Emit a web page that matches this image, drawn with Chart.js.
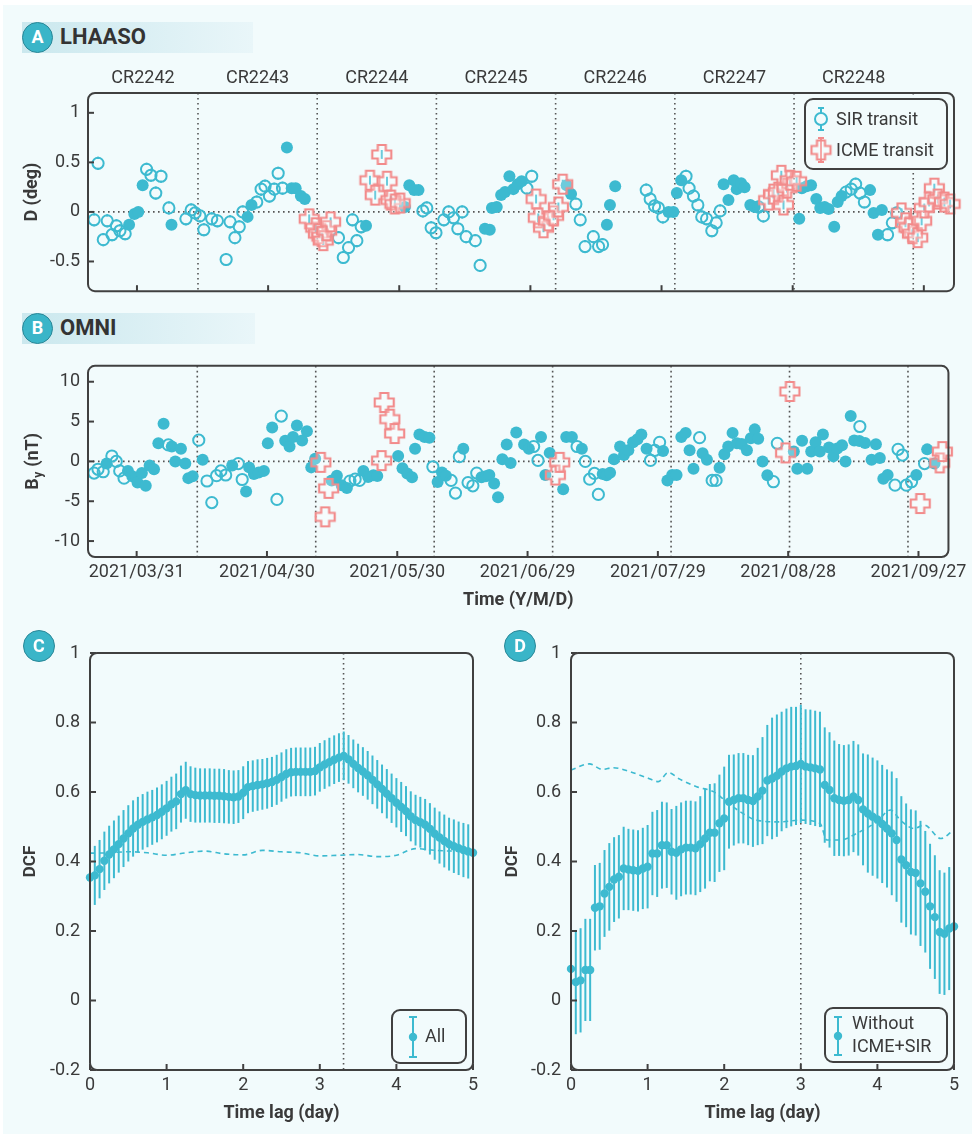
<!DOCTYPE html>
<html><head><meta charset="utf-8">
<script src="https://cdn.jsdelivr.net/npm/chart.js@4.4.0/dist/chart.umd.min.js"></script>
<style>
html,body{margin:0;padding:0;background:#fff;}
#page{position:relative;width:972px;height:1134px;overflow:hidden;background:#fff;font-family:Roboto,"Liberation Sans",sans-serif;}
#bg{position:absolute;left:3px;top:5px;right:0;bottom:0;background:#f2fbfc;}
canvas{position:absolute;}
.band{position:absolute;height:31px;background:linear-gradient(to right,#cbe8ee,#e9f6f9);}
.badge{position:absolute;width:31px;height:31px;border-radius:50%;background:#3ab5c8;border:1.5px solid #2a8797;box-sizing:border-box;color:#fff;font-weight:bold;font-size:18px;line-height:28px;text-align:center;}
.htitle{position:absolute;font-weight:bold;font-size:22px;color:#333;line-height:26px;}
</style></head>
<body><div id="page"><div id="bg"></div>
<div class="band" style="left:22px;top:22px;width:231px;"></div>
<div class="badge" style="left:22px;top:22px;">A</div>
<div class="htitle" style="left:60px;top:24px;">LHAASO</div>
<div class="band" style="left:22px;top:313px;width:233px;"></div>
<div class="badge" style="left:22px;top:313px;">B</div>
<div class="htitle" style="left:60px;top:315px;">OMNI</div>
<canvas id="cA" width="972" height="250" style="left:0;top:60px;"></canvas>
<canvas id="cB" width="972" height="273" style="left:0;top:347px;"></canvas>
<canvas id="cC" width="486" height="514" style="left:0;top:620px;"></canvas>
<canvas id="cD" width="486" height="514" style="left:486px;top:620px;"></canvas>
<div class="badge" style="left:23px;top:630px;width:32px;height:32px;line-height:29px;">C</div>
<div class="badge" style="left:504px;top:630px;width:32px;height:32px;line-height:29px;">D</div>
</div>
<script>
// ---------- shared axis data ----------
const DATE_TICK_DAYS = [0, 30, 60, 90, 120, 150, 180]; // days since 2021/03/31
const DATE_TICK_LABELS = ['2021/03/31','2021/04/30','2021/05/30','2021/06/29','2021/07/29','2021/08/28','2021/09/27'];
const DAY_RANGE = [-11.2, 186.9];
const CR_NAMES = ['CR2242','CR2243','CR2244','CR2245','CR2246','CR2247','CR2248'];
const CR_BOUNDARY_DAYS = [13.96, 41.23, 68.50, 95.77, 123.04, 150.31, 177.58];

// ---------- panel A: LHAASO D (deg) ----------
const A_Y_TICKS = [-0.5, 0, 0.5, 1];
const A_Y_RANGE = [-0.8, 1.2];
const A_ERR = 0.045;
const A_FILLED = [[-1.8,-0.13],[-0.6,-0.02],[0.3,0.00],[1.3,0.27],[7.9,-0.13],[25.3,-0.05],[26.2,0.07],[34.3,0.65],[35.4,0.24],[36.3,0.24],[37.5,0.16],[38.4,0.13],[52.4,-0.14],[61.3,0.05],[62.3,0.27],[63.4,0.22],[64.4,0.22],[79.6,-0.17],[80.7,-0.18],[81.2,0.04],[82.3,0.05],[83.3,0.17],[84.2,0.20],[85.2,0.36],[86.1,0.23],[87.1,0.28],[88.0,0.31],[98.3,0.27],[99.3,0.18],[107.5,-0.13],[108.2,0.07],[109.4,0.26],[121.6,0.00],[122.7,0.00],[123.5,0.19],[124.5,0.32],[134.2,0.28],[135.3,0.12],[136.5,0.32],[137.2,0.23],[138.2,0.29],[139.0,0.25],[140.3,0.07],[141.3,0.05],[151.5,-0.07],[152.1,0.24],[153.2,0.26],[154.2,0.27],[155.4,0.13],[156.3,0.04],[157.3,0.05],[158.2,0.03],[159.5,-0.15],[160.3,0.10],[161.2,0.16],[167.7,0.22],[168.5,-0.01],[169.5,-0.23],[170.4,0.02]];
const A_SIR = [[-9.8,-0.08],[-8.9,0.49],[-7.7,-0.28],[-6.8,-0.09],[-5.7,-0.23],[-4.7,-0.14],[-3.9,-0.19],[-2.7,-0.22],[2.2,0.43],[3.2,0.37],[4.3,0.19],[5.5,0.36],[7.3,0.04],[11.2,-0.07],[12.4,0.02],[13.3,-0.01],[14.4,-0.04],[15.3,-0.18],[17.1,-0.07],[18.4,-0.09],[20.4,-0.48],[21.3,-0.10],[22.4,-0.26],[23.4,-0.15],[24.2,0.00],[27.4,0.10],[28.4,0.23],[29.3,0.26],[30.3,0.16],[31.4,0.23],[32.3,0.39],[33.3,0.24],[46.1,-0.26],[47.2,-0.46],[48.4,-0.36],[49.3,-0.08],[50.3,-0.29],[51.3,-0.15],[65.4,0.01],[66.3,0.04],[67.3,-0.16],[68.4,-0.21],[70.2,-0.08],[71.3,0.00],[72.4,-0.06],[73.4,-0.17],[74.4,0.00],[75.3,-0.25],[77.4,-0.29],[78.5,-0.54],[89.2,0.24],[90.3,0.36],[100.4,0.08],[101.4,-0.08],[102.5,-0.35],[104.4,-0.25],[105.6,-0.35],[106.5,-0.33],[116.5,0.22],[117.4,0.13],[118.4,0.06],[119.3,0.04],[120.3,-0.05],[125.6,0.36],[126.3,0.24],[127.3,0.16],[128.3,0.07],[129.2,-0.05],[130.3,-0.07],[131.5,-0.19],[132.5,-0.11],[133.4,0.01],[142.2,0.05],[143.3,-0.04],[162.2,0.20],[163.4,0.23],[164.4,0.28],[165.4,0.19],[166.4,0.10],[171.7,-0.23],[172.8,-0.11],[173.8,-0.01]];
const A_ICME = [[39.4,-0.07],[40.9,-0.16],[41.5,-0.22],[42.3,-0.25],[42.6,-0.29],[43.4,-0.19],[44.3,-0.10],[53.3,0.32],[54.5,0.17],[56.0,0.58],[57.2,0.31],[58.1,0.12],[59.0,0.08],[60.2,0.09],[91.3,0.13],[91.8,-0.06],[93.0,-0.16],[94.1,-0.09],[95.3,-0.04],[96.4,0.05],[97.4,0.28],[144.5,0.12],[145.6,0.18],[146.7,0.20],[147.4,0.37],[147.9,0.07],[148.7,0.24],[149.4,0.32],[150.9,0.31],[174.9,-0.01],[175.8,-0.11],[176.6,-0.16],[177.4,-0.22],[178.6,-0.26],[179.5,-0.09],[180.1,0.04],[181.2,0.10],[182.4,0.24],[183.2,0.13],[184.7,0.10],[186.0,0.08]];

// ---------- panel B: OMNI By (nT) ----------
const B_Y_TICKS = [-10, -5, 0, 5, 10];
const B_Y_RANGE = [-12, 12];
const B_FILLED = [[-6.9,-0.27],[-2.0,-1.19],[-1.0,-1.86],[0.2,-2.66],[1.2,-1.47],[2.1,-3.06],[3.0,-0.51],[4.0,-0.99],[5.0,2.27],[6.2,4.74],[8.1,1.87],[8.9,0.0],[10.2,1.59],[11.2,-0.27],[11.9,-2.1],[12.9,-1.86],[15.2,0.20],[22.0,-0.51],[25.2,-3.78],[25.9,-0.75],[27.0,-1.59],[28.1,-1.39],[29.3,-1.19],[30.2,2.27],[31.2,4.26],[34.2,2.59],[35.2,1.87],[36.0,3.07],[36.9,4.50],[38.1,2.63],[39.2,3.78],[40.2,-0.75],[41.1,0.32],[44.9,-2.39],[46.1,-1.79],[47.2,-2.98],[48.4,-3.34],[52.2,-1.19],[53.3,-1.95],[54.5,-1.75],[55.4,-1.83],[60.2,0.68],[61.2,-0.87],[62.3,-1.51],[63.4,-1.99],[64.1,1.59],[65.1,3.38],[66.3,3.06],[67.4,2.98],[69.3,-2.59],[70.3,-1.39],[71.2,-1.79],[75.2,1.59],[79.4,-1.99],[80.4,-1.86],[81.2,-1.71],[82.3,-2.78],[83.2,-4.49],[84.2,0.28],[85.2,2.11],[86.1,-0.19],[87.4,3.62],[89.2,2.11],[90.3,1.59],[93.1,3.07],[94.1,-1.71],[95.1,1.07],[98.2,-3.50],[98.9,3.07],[100.2,3.07],[102.5,1.59],[107.3,-1.59],[108.2,-1.75],[109.0,-1.43],[109.9,0.28],[111.3,1.87],[112.2,0.80],[113.2,1.39],[114.3,2.39],[115.3,2.79],[116.2,3.38],[117.4,1.59],[121.2,1.31],[122.2,-2.39],[123.3,-1.71],[124.3,-1.71],[125.4,3.07],[126.4,3.58],[127.3,1.39],[128.2,-0.91],[130.3,1.03],[131.3,0.20],[134.2,-0.79],[135.3,0.91],[136.2,1.87],[137.2,3.58],[138.2,2.27],[139.3,2.19],[140.5,1.39],[141.4,2.91],[142.3,4.02],[143.1,2.83],[144.1,0.0],[145.2,-1.75],[151.3,1.23],[152.1,-0.91],[153.2,2.59],[154.4,-0.91],[155.3,1.23],[156.3,2.39],[157.3,1.23],[158.0,3.38],[159.4,1.75],[160.4,0.63],[161.3,1.63],[162.4,2.03],[163.2,0.0],[164.4,5.69],[165.2,2.63],[166.4,2.55],[167.7,2.31],[169.2,0.20],[170.2,2.15],[171.1,0.44],[171.9,-2.19],[172.9,-1.71],[179.5,-1.71],[182.0,1.51],[183.7,-0.27]];
const B_SIR = [[-9.8,-1.47],[-8.9,-0.99],[-7.7,-1.30],[-5.7,0.68],[-4.7,0.0],[-3.9,-1.19],[-2.9,-2.1],[7.3,2.07],[14.3,2.67],[16.2,-2.46],[17.3,-5.17],[18.4,-1.79],[19.4,-1.19],[20.5,-1.71],[23.4,-0.27],[24.3,-2.27],[32.3,-4.77],[33.3,5.69],[49.1,-2.47],[50.3,-2.23],[51.3,-2.39],[68.2,-0.67],[72.4,-2.39],[73.4,-3.98],[74.3,0.59],[76.3,-2.66],[77.4,-3.06],[78.3,-1.47],[91.4,1.87],[92.4,0.12],[101.4,1.87],[103.3,0.0],[104.3,-2.23],[105.4,-1.51],[106.3,-4.14],[118.3,0.12],[119.3,1.39],[120.4,2.39],[129.6,2.98],[132.5,-2.39],[133.4,-2.39],[146.6,-2.55],[147.5,2.27],[166.5,4.38],[174.6,-2.98],[175.3,1.51],[176.3,0.80],[177.2,-2.98],[178.4,-2.55],[181.4,-0.27]];
const B_ICME = [[42.4,-0.12],[43.4,-6.96],[44.2,-3.38],[56.4,0.1],[57.0,7.4],[58.3,5.3],[59.4,3.5],[96.4,-1.71],[97.4,-0.12],[149.4,1.07],[150.4,8.78],[180.4,-5.29],[184.9,-0.19],[185.5,1.23]];

// ---------- panels C, D: DCF vs time lag ----------
const LAG_TICKS = [0, 1, 2, 3, 4, 5];
const DCF_TICKS = [-0.2, 0, 0.2, 0.4, 0.6, 0.8, 1];
const DCF_RANGE = [-0.2, 1];
const LAGS = Array.from({length: 81}, (_, i) => i / 16); // lag grid, 1.5 h steps
const C_DCF = [0.354,0.360,0.378,0.402,0.420,0.435,0.450,0.466,0.481,0.495,0.506,0.514,0.521,0.527,0.534,0.543,0.553,0.565,0.573,0.594,0.605,0.594,0.591,0.590,0.590,0.590,0.589,0.589,0.588,0.586,0.585,0.587,0.598,0.614,0.617,0.620,0.622,0.625,0.629,0.635,0.643,0.652,0.657,0.658,0.658,0.658,0.658,0.660,0.671,0.679,0.686,0.693,0.699,0.704,0.694,0.681,0.669,0.659,0.648,0.635,0.622,0.609,0.595,0.582,0.569,0.557,0.545,0.530,0.519,0.513,0.506,0.494,0.480,0.469,0.459,0.450,0.444,0.438,0.433,0.429,0.425];
const C_ERR = [0.085,0.085,0.084,0.084,0.083,0.083,0.082,0.082,0.081,0.081,0.080,0.080,0.080,0.079,0.079,0.079,0.079,0.079,0.080,0.082,0.082,0.080,0.079,0.078,0.078,0.078,0.078,0.078,0.078,0.077,0.077,0.076,0.076,0.075,0.074,0.074,0.073,0.073,0.072,0.072,0.071,0.071,0.070,0.070,0.070,0.070,0.070,0.070,0.070,0.070,0.070,0.070,0.070,0.070,0.070,0.070,0.070,0.070,0.070,0.070,0.070,0.070,0.071,0.071,0.071,0.072,0.072,0.072,0.073,0.073,0.074,0.074,0.075,0.075,0.076,0.076,0.077,0.077,0.078,0.078,0.080];
const C_BASE = [[0,0.424],[0.25,0.425],[0.5,0.428],[0.75,0.425],[1.0,0.418],[1.25,0.425],[1.5,0.430],[1.75,0.422],[2.0,0.419],[2.25,0.432],[2.5,0.428],[2.75,0.425],[3.0,0.416],[3.25,0.418],[3.5,0.420],[3.75,0.414],[4.0,0.418],[4.25,0.437],[4.5,0.432],[4.75,0.430],[5.0,0.430]];
const C_PEAK_LAG = 3.31;
const D_DCF = [0.091,0.053,0.058,0.088,0.088,0.267,0.271,0.308,0.327,0.348,0.356,0.380,0.377,0.375,0.373,0.380,0.385,0.423,0.423,0.447,0.447,0.428,0.425,0.435,0.440,0.440,0.438,0.450,0.466,0.483,0.483,0.510,0.524,0.572,0.577,0.582,0.582,0.577,0.574,0.587,0.604,0.633,0.639,0.647,0.659,0.668,0.673,0.675,0.681,0.673,0.671,0.668,0.665,0.620,0.606,0.582,0.577,0.575,0.577,0.587,0.577,0.550,0.538,0.529,0.521,0.508,0.495,0.481,0.462,0.406,0.389,0.370,0.367,0.337,0.313,0.271,0.240,0.197,0.192,0.207,0.213];
const D_ERR = [0.150,0.150,0.150,0.147,0.147,0.123,0.125,0.125,0.126,0.122,0.120,0.120,0.117,0.117,0.117,0.117,0.120,0.120,0.125,0.125,0.123,0.123,0.135,0.135,0.135,0.135,0.135,0.138,0.144,0.140,0.142,0.140,0.149,0.135,0.131,0.130,0.130,0.130,0.132,0.140,0.154,0.160,0.175,0.176,0.172,0.172,0.172,0.170,0.170,0.165,0.166,0.166,0.166,0.166,0.166,0.166,0.161,0.160,0.160,0.160,0.160,0.161,0.170,0.170,0.170,0.170,0.170,0.178,0.178,0.182,0.178,0.180,0.180,0.180,0.175,0.180,0.178,0.178,0.176,0.177,0.183];
const D_BASE = [[0,0.663],[0.24,0.681],[0.41,0.665],[0.55,0.670],[0.76,0.659],[0.98,0.642],[1.14,0.630],[1.27,0.656],[1.42,0.637],[1.64,0.615],[1.86,0.601],[2.03,0.572],[2.21,0.543],[2.42,0.519],[2.73,0.514],[2.99,0.519],[3.25,0.510],[3.34,0.462],[3.52,0.462],[3.73,0.481],[3.99,0.514],[4.17,0.548],[4.30,0.519],[4.48,0.495],[4.61,0.505],[4.83,0.466],[5.0,0.492]];
const D_PEAK_LAG = 3.0;

// ---------- styling ----------
const TEAL = '#3dbad0', PINK = '#f28b8b', INK = '#3a3a3a', FRAME = '#404040', BG = '#f2fbfc';
const FONT = 'Roboto, "Liberation Sans", sans-serif';
Chart.defaults.font.family = FONT;
Chart.defaults.color = INK;
Chart.defaults.animation = false;

function makeCross(size, arm, color) {
  const c = document.createElement('canvas');
  c.width = size + 4; c.height = size + 4;
  const g = c.getContext('2d');
  const o = c.width / 2, h = size / 2, a = arm / 2;
  const pts = [[-a,-h],[a,-h],[a,-a],[h,-a],[h,a],[a,a],[a,h],[-a,h],[-a,a],[-h,a],[-h,-a],[-a,-a]];
  g.beginPath();
  pts.forEach(([x, y], i) => i ? g.lineTo(o + x, o + y) : g.moveTo(o + x, o + y));
  g.closePath();
  g.fillStyle = 'rgba(255,255,255,0.25)'; g.fill();
  g.strokeStyle = color; g.lineWidth = 2.2; g.stroke();
  return c;
}
const CROSS = makeCross(19, 8, PINK);

const toPts = arr => arr.map(([x, y]) => ({x, y}));
const fixedTicks = vals => s => { s.ticks = vals.map(v => ({value: v})); };

function seg(ctx, x1, y1, x2, y2) { ctx.beginPath(); ctx.moveTo(x1, y1); ctx.lineTo(x2, y2); ctx.stroke(); }
function box(ctx, l, t, w, h) {
  ctx.save(); ctx.fillStyle = BG; ctx.strokeStyle = FRAME; ctx.lineWidth = 2;
  ctx.beginPath(); ctx.roundRect(l, t, w, h, 8); ctx.fill(); ctx.stroke(); ctx.restore();
}
function capBar(ctx, x, y1, y2, color, cap) {
  ctx.save(); ctx.strokeStyle = color; ctx.lineWidth = 2;
  seg(ctx, x, y1, x, y2); seg(ctx, x - cap, y1, x + cap, y1); seg(ctx, x - cap, y2, x + cap, y2);
  ctx.restore();
}
function text(ctx, s, x, y, size, opts = {}) {
  ctx.save(); ctx.fillStyle = INK; ctx.font = (opts.bold ? 'bold ' : '') + size + 'px ' + FONT;
  ctx.textAlign = opts.align || 'left'; ctx.textBaseline = 'middle'; ctx.fillText(s, x, y); ctx.restore();
}

function decor(cfg) {
  return {
    id: 'decor',
    beforeDatasetsDraw(chart) {
      const {ctx, chartArea: a, scales: {x, y}} = chart;
      ctx.save();
      ctx.strokeStyle = '#555'; ctx.lineWidth = 1.6; ctx.setLineDash([1.6, 3.4]);
      if (cfg.zeroLine) { const py = y.getPixelForValue(0); seg(ctx, a.left, py, a.right, py); }
      (cfg.vLines || []).forEach(v => { const px = x.getPixelForValue(v); seg(ctx, px, a.top, px, a.bottom); });
      ctx.restore();
      chart.data.datasets.forEach((ds, i) => {
        if (ds.errorBars == null) return;
        const meta = chart.getDatasetMeta(i);
        ctx.save(); ctx.strokeStyle = TEAL; ctx.lineWidth = ds.errorWidth || 2;
        meta.data.forEach((el, j) => {
          const v = ds.data[j].y;
          const e = Array.isArray(ds.errorBars) ? ds.errorBars[j] : ds.errorBars;
          const t = y.getPixelForValue(v + e), b = y.getPixelForValue(v - e), g = ds.errorGap || 0;
          ctx.beginPath();
          if (g) { ctx.moveTo(el.x, t); ctx.lineTo(el.x, el.y - g); ctx.moveTo(el.x, el.y + g); ctx.lineTo(el.x, b); }
          else { ctx.moveTo(el.x, t); ctx.lineTo(el.x, b); }
          ctx.stroke();
        });
        ctx.restore();
      });
    },
    afterDraw(chart) {
      const {ctx, chartArea: a, scales: {x, y}} = chart;
      ctx.save();
      ctx.strokeStyle = FRAME; ctx.lineWidth = 2;
      ctx.beginPath(); ctx.roundRect(a.left, a.top, a.width, a.height, 7); ctx.stroke();
      cfg.yTicks.forEach(v => { const py = y.getPixelForValue(v); seg(ctx, a.left, py, a.left + 6, py); });
      cfg.xTicks.forEach(v => { const px = x.getPixelForValue(v); seg(ctx, px, a.bottom, px, a.bottom - 6); });
      ctx.restore();
      if (cfg.crLabels) {
        const edges = [x.min, ...CR_BOUNDARY_DAYS];
        CR_NAMES.forEach((n, i) => {
          const mid = (edges[i] + edges[i + 1]) / 2;
          text(ctx, n, x.getPixelForValue(mid), a.top - 15, 18, {align: 'center'});
        });
      }
      if (cfg.byTitle) {
        ctx.save();
        ctx.translate(33.5, (a.top + a.bottom) / 2); ctx.rotate(-Math.PI / 2);
        ctx.fillStyle = INK; ctx.textBaseline = 'middle'; ctx.textAlign = 'left';
        const f1 = 'bold 18px ' + FONT, f2 = 'bold 12px ' + FONT;
        ctx.font = f1; const wB = ctx.measureText('B').width, wR = ctx.measureText(' (nT)').width;
        ctx.font = f2; const wy = ctx.measureText('y').width;
        const x0 = -(wB + wy + 1 + wR) / 2;
        ctx.font = f1; ctx.fillText('B', x0, 0);
        ctx.font = f2; ctx.fillText('y', x0 + wB + 0.5, 5);
        ctx.font = f1; ctx.fillText(' (nT)', x0 + wB + wy + 1, 0);
        ctx.restore();
      }
      if (cfg.legend) cfg.legend(ctx, a);
    }
  };
}

function legendA(ctx, a) {
  const w = 142, h = 70, L = a.right - 7 - w, T = a.top + 6;
  box(ctx, L, T, w, h);
  const mx = L + 16, y1 = T + 20, y2 = T + 51;
  capBar(ctx, mx, y1 - 11, y1 + 11, TEAL, 3);
  ctx.save(); ctx.beginPath(); ctx.arc(mx, y1, 6, 0, Math.PI * 2); ctx.fillStyle = BG; ctx.fill();
  ctx.strokeStyle = TEAL; ctx.lineWidth = 2; ctx.stroke(); ctx.restore();
  text(ctx, 'SIR transit', L + 31, y1 + 1, 18);
  capBar(ctx, mx, y2 - 12, y2 + 12, PINK, 3);
  ctx.drawImage(CROSS, mx - CROSS.width / 2, y2 - CROSS.height / 2);
  text(ctx, 'ICME transit', L + 31, y2 + 1, 18);
}
function legendC(ctx, a) {
  const w = 74, h = 53, L = a.right - 7 - w, T = a.bottom - 7 - h;
  box(ctx, L, T, w, h);
  const mx = L + 21, my = T + 27;
  capBar(ctx, mx, my - 20, my + 20, TEAL, 4);
  ctx.save(); ctx.fillStyle = TEAL; ctx.beginPath(); ctx.arc(mx, my, 4.2, 0, Math.PI * 2); ctx.fill(); ctx.restore();
  text(ctx, 'All', L + 33, my, 18);
}
function legendD(ctx, a) {
  const w = 122, h = 54, L = a.right - 7 - w, T = a.bottom - 8 - h;
  box(ctx, L, T, w, h);
  const mx = L + 13, my = T + 28;
  capBar(ctx, mx, my - 19, my + 19, TEAL, 4);
  ctx.save(); ctx.fillStyle = TEAL; ctx.beginPath(); ctx.arc(mx, my, 4.2, 0, Math.PI * 2); ctx.fill(); ctx.restore();
  text(ctx, 'Without', L + 27, T + 16, 18);
  text(ctx, 'ICME+SIR', L + 27, T + 39, 18);
}

const tickFont = {size: 18, family: FONT};
const noGrid = {display: false, drawTicks: false};

function timeChart(id, opts) {
  return new Chart(document.getElementById(id), {
    type: 'scatter',
    data: {datasets: [
      {data: toPts(opts.icme), pointStyle: CROSS, pointRadius: 10, errorBars: opts.err, errorWidth: 2},
      {data: toPts(opts.sir), pointStyle: 'circle', pointRadius: 5.6, borderWidth: 2, borderColor: TEAL, backgroundColor: 'rgba(0,0,0,0)', errorBars: opts.err, errorGap: 6.5},
      {data: toPts(opts.filled), pointStyle: 'circle', pointRadius: 6, borderWidth: 0, backgroundColor: TEAL, borderColor: TEAL, errorBars: opts.err}
    ].map(d => Object.assign(d, {clip: false, pointHoverRadius: d.pointRadius}))},
    options: {
      responsive: false, maintainAspectRatio: false, devicePixelRatio: 1, events: [],
      layout: {padding: {top: opts.padTop, right: 18, left: 0, bottom: 0}},
      plugins: {legend: {display: false}, tooltip: {enabled: false}},
      scales: {
        x: {type: 'linear', min: DAY_RANGE[0], max: DAY_RANGE[1], grid: noGrid, border: {display: false},
            afterBuildTicks: fixedTicks(DATE_TICK_DAYS),
            afterFit: s => { s.height = opts.xHeight; },
            ticks: {display: opts.showDates, autoSkip: false, maxRotation: 0, padding: 5, font: tickFont,
                    callback: v => DATE_TICK_LABELS[DATE_TICK_DAYS.indexOf(v)]},
            title: {display: !!opts.xTitle, text: opts.xTitle || '', font: {size: 18, weight: 'bold', family: FONT}, padding: {bottom: 9, top: 0}}},
        y: {min: opts.yRange[0], max: opts.yRange[1], grid: noGrid, border: {display: false},
            afterBuildTicks: fixedTicks(opts.yTicks),
            afterFit: s => { s.width = 88; },
            ticks: {padding: 8, font: tickFont, callback: v => String(v)},
            title: {display: !!opts.yTitle, text: opts.yTitle || '', font: {size: 18, weight: 'bold', family: FONT}, padding: {top: 22, bottom: 0}}}
      }
    },
    plugins: [decor({zeroLine: true, vLines: CR_BOUNDARY_DAYS, yTicks: opts.yTicks, xTicks: DATE_TICK_DAYS,
                     crLabels: opts.crLabels, byTitle: opts.byTitle, legend: opts.legend})]
  });
}

timeChart('cA', {icme: A_ICME, sir: A_SIR, filled: A_FILLED, err: A_ERR, padTop: 33, xHeight: 10,
  showDates: false, yRange: A_Y_RANGE, yTicks: A_Y_TICKS, yTitle: 'D (deg)', crLabels: true, legend: legendA});
timeChart('cB', {icme: B_ICME, sir: B_SIR, filled: B_FILLED, err: null, padTop: 10, xHeight: 63,
  showDates: true, xTitle: 'Time (Y/M/D)', yRange: B_Y_RANGE, yTicks: B_Y_TICKS, byTitle: true});

function dcfChart(id, opts) {
  return new Chart(document.getElementById(id), {
    type: 'scatter',
    data: {datasets: [
      {data: LAGS.map((l, i) => ({x: l, y: opts.dcf[i]})), pointStyle: 'circle', pointRadius: 4.2, borderWidth: 0,
       backgroundColor: TEAL, borderColor: TEAL, errorBars: opts.err, errorWidth: 2, clip: false},
      {data: toPts(opts.base), showLine: true, pointRadius: 0, borderColor: TEAL, borderWidth: 1.6,
       borderDash: [5, 4], cubicInterpolationMode: 'monotone', clip: false}
    ]},
    options: {
      responsive: false, maintainAspectRatio: false, devicePixelRatio: 1, events: [],
      layout: {padding: {top: 33, right: opts.padRight, left: 0, bottom: 0}},
      plugins: {legend: {display: false}, tooltip: {enabled: false}},
      scales: {
        x: {type: 'linear', min: 0, max: 5, grid: noGrid, border: {display: false},
            afterBuildTicks: fixedTicks(LAG_TICKS), afterFit: s => { s.height = 64; },
            ticks: {padding: 5, font: {size: 18, family: FONT}, callback: v => String(v)},
            title: {display: true, text: 'Time lag (day)', font: {size: 18, weight: 'bold', family: FONT}, padding: {bottom: 10, top: 0}}},
        y: {min: DCF_RANGE[0], max: DCF_RANGE[1], grid: noGrid, border: {display: false},
            afterBuildTicks: fixedTicks(DCF_TICKS), afterFit: s => { s.width = opts.yWidth; },
            ticks: {padding: 10, font: {size: 18, family: FONT}, callback: v => String(v)},
            title: {display: true, text: 'DCF', font: {size: 17, weight: 'bold', family: FONT}, padding: {top: opts.titlePad, bottom: 0}}}
      }
    },
    plugins: [decor({zeroLine: false, vLines: [opts.peak], yTicks: DCF_TICKS, xTicks: LAG_TICKS, legend: opts.legend})]
  });
}

dcfChart('cC', {dcf: C_DCF, err: C_ERR, base: C_BASE, peak: C_PEAK_LAG, padRight: 13, yWidth: 90, titlePad: 21, legend: legendC});
dcfChart('cD', {dcf: D_DCF, err: D_ERR, base: D_BASE, peak: D_PEAK_LAG, padRight: 18, yWidth: 85, titlePad: 17, legend: legendD});
</script>
</body></html>
